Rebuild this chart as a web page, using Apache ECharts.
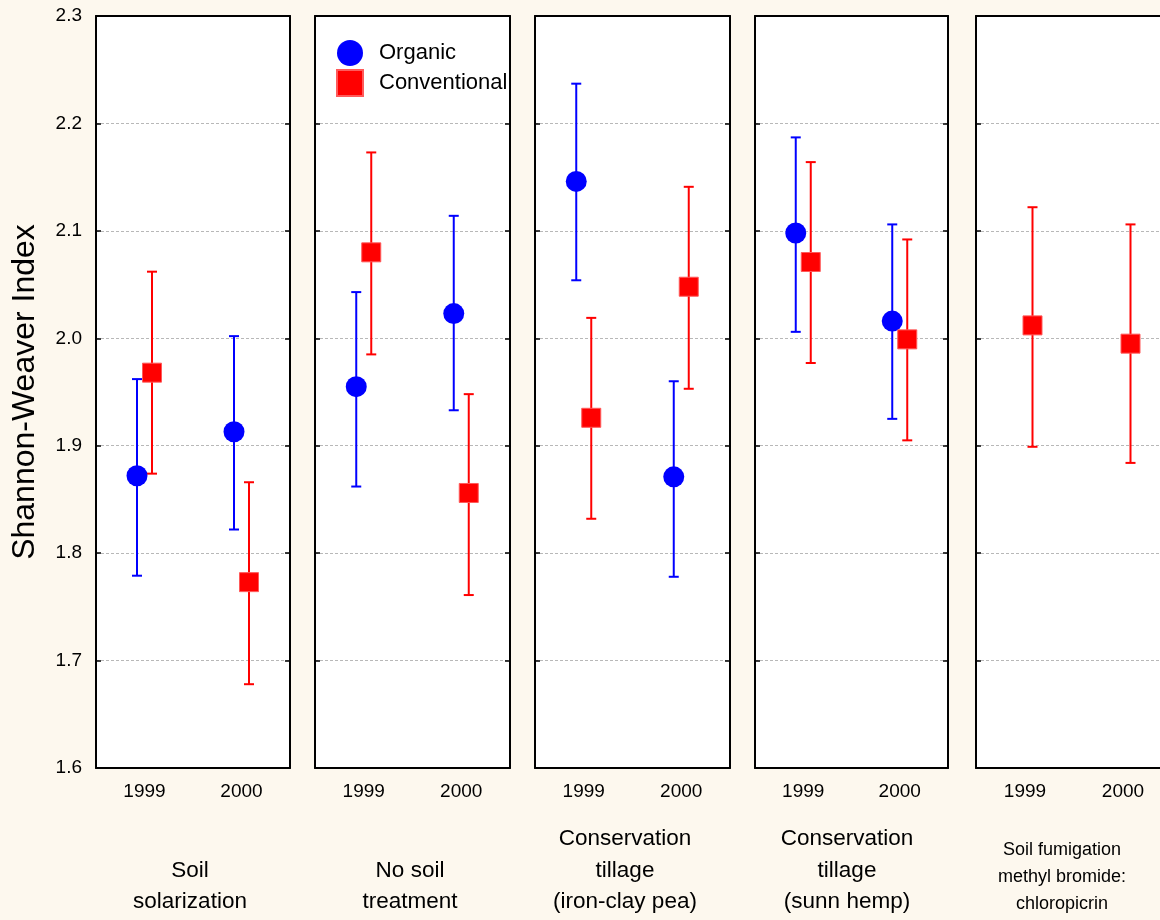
<!DOCTYPE html>
<html>
<head>
<meta charset="utf-8">
<title>Shannon-Weaver Index</title>
<script src="https://cdn.jsdelivr.net/npm/echarts@6/dist/echarts.min.js"></script>
<style>
  html, body { margin: 0; padding: 0; background: #fdf8ee; }
  #chart { width: 1160px; height: 920px; }
</style>
</head>
<body>
<div id="chart"></div>
<script>
// data
const years = ['1999', '2000']
const treatments = [
  'Soil\nsolarization',
  'No soil\ntreatment',
  'Conservation\ntillage\n(iron-clay pea)',
  'Conservation\ntillage\n(sunn hemp)',
  'Soil fumigation\nmethyl bromide:\nchloropicrin'
]
const organicMean = [[1.872, 1.913], [1.955, 2.023], [2.146, 1.871], [2.098, 2.016], [null, null]]
const organicLow = [[1.779, 1.822], [1.862, 1.933], [2.054, 1.778], [2.006, 1.925], [null, null]]
const organicHigh = [[1.962, 2.002], [2.043, 2.114], [2.237, 1.960], [2.187, 2.106], [null, null]]
const conventionalMean = [[1.968, 1.773], [2.080, 1.856], [1.926, 2.048], [2.071, 1.999], [2.012, 1.995]]
const conventionalLow = [[1.874, 1.678], [1.985, 1.761], [1.832, 1.953], [1.977, 1.905], [1.899, 1.884]]
const conventionalHigh = [[2.062, 1.866], [2.173, 1.948], [2.019, 2.141], [2.164, 2.092], [2.122, 2.106]]
const yMin = 1.6
const yMax = 2.3
const yStep = 0.1

// layout
const panelLeft = [96, 315, 535, 755, 976]
const panelWidth = [194, 195, 195, 193, 196]
const titleX = [190, 410, 625, 847, 1062]
const blue = '#0000ff'
const red = '#ff0000'
const offset = 7.5

const chart = echarts.init(document.getElementById('chart'))

let grids = []
let xAxes = []
let yAxes = []
let series = []
let graphics = []

function errorBar(dx, color) {
  return function (params, api) {
    let lo = api.coord([api.value(0), api.value(1)])
    let hi = api.coord([api.value(0), api.value(2)])
    let x = lo[0] + dx
    let st = { stroke: color, lineWidth: 2 }
    return {
      type: 'group',
      children: [
        { type: 'line', shape: { x1: x, y1: lo[1], x2: x, y2: hi[1] }, style: st },
        { type: 'line', shape: { x1: x - 5, y1: lo[1], x2: x + 5, y2: lo[1] }, style: st },
        { type: 'line', shape: { x1: x - 5, y1: hi[1], x2: x + 5, y2: hi[1] }, style: st }
      ]
    }
  }
}

treatments.forEach((name, i) => {
  grids.push({
    left: panelLeft[i], width: panelWidth[i], top: 16, height: 752,
    outerBoundsMode: 'none', containLabel: false,
    show: true, backgroundColor: '#ffffff', borderWidth: 0
  })
  let lineStyle = { color: '#000', width: 2 }
  // bottom x
  xAxes.push({
    gridIndex: i, type: 'category', data: years, position: 'bottom',
    axisLine: { onZero: false, lineStyle: lineStyle },
    axisTick: { inside: true, alignWithLabel: true, length: 5, lineStyle: { color: '#000', width: 1.5 } },
    axisLabel: { color: '#000', fontSize: 19, fontFamily: 'Liberation Sans', margin: 14 }
  })
  // top x
  xAxes.push({
    gridIndex: i, type: 'category', data: years, position: 'top',
    axisLine: { onZero: false, lineStyle: lineStyle },
    axisTick: { inside: true, alignWithLabel: true, length: 5, lineStyle: { color: '#000', width: 1.5 } },
    axisLabel: { show: false }
  })
  // left y
  yAxes.push({
    gridIndex: i, type: 'value', min: yMin, max: yMax, interval: yStep, position: 'left',
    name: i === 0 ? 'Shannon-Weaver Index' : '',
    nameLocation: 'middle', nameGap: 55, nameRotate: 90,
    nameTextStyle: { color: '#000', fontSize: 32, fontFamily: 'Liberation Sans' },
    axisLine: { show: true, lineStyle: lineStyle },
    axisTick: { show: true, inside: true, length: 5, lineStyle: { color: '#000', width: 1.5 } },
    axisLabel: {
      show: i === 0, color: '#000', fontSize: 19, fontFamily: 'Liberation Sans', margin: 14,
      formatter: v => v.toFixed(1)
    },
    splitLine: { show: true, lineStyle: { color: '#b8b8b8', width: 1, type: [3, 2] } }
  })
  // right y
  yAxes.push({
    gridIndex: i, type: 'value', min: yMin, max: yMax, interval: yStep, position: 'right',
    axisLine: { show: true, lineStyle: lineStyle },
    axisTick: { show: true, inside: true, length: 5, lineStyle: { color: '#000', width: 1.5 } },
    axisLabel: { show: false },
    splitLine: { show: false }
  })

  let xi = i * 2
  let yi = i * 2
  if (organicMean[i][0] !== null) {
    series.push({
      name: 'organic-err', type: 'custom', xAxisIndex: xi, yAxisIndex: yi,
      renderItem: errorBar(-offset, blue), encode: { x: 0, y: [1, 2] },
      data: years.map((y, k) => [k, organicLow[i][k], organicHigh[i][k]]),
      z: 2
    })
  }
  series.push({
    name: 'conventional-err', type: 'custom', xAxisIndex: xi, yAxisIndex: yi,
    renderItem: errorBar(offset, red), encode: { x: 0, y: [1, 2] },
    data: years.map((y, k) => [k, conventionalLow[i][k], conventionalHigh[i][k]]),
    z: 2
  })
  if (organicMean[i][0] !== null) {
    series.push({
      name: 'Organic', type: 'scatter', xAxisIndex: xi, yAxisIndex: yi,
      symbol: 'circle', symbolSize: 21, symbolOffset: [-offset, 0],
      itemStyle: { color: blue, opacity: 1 },
      data: years.map((y, k) => [k, organicMean[i][k]]),
      z: 3
    })
  }
  series.push({
    name: 'Conventional', type: 'scatter', xAxisIndex: xi, yAxisIndex: yi,
    symbol: 'rect', symbolSize: 19, symbolOffset: [offset, 0],
    itemStyle: { color: red, opacity: 1, borderColor: '#ff5a5a', borderWidth: 1 },
    data: years.map((y, k) => [k, conventionalMean[i][k]]),
    z: 3
  })

  let small = i === 4
  graphics.push({
    type: 'text', x: titleX[i], y: small ? 918 : 918,
    style: {
      text: name, fill: '#000',
      fontSize: small ? 18 : 22.5, fontFamily: 'Liberation Sans',
      lineHeight: small ? 27 : 31.5,
      align: 'center', verticalAlign: 'bottom'
    }
  })
})

chart.setOption({
  backgroundColor: '#fdf8ee',
  animation: false,
  grid: grids,
  xAxis: xAxes,
  yAxis: yAxes,
  legend: {
    data: [{ name: 'Organic', icon: 'circle' }, { name: 'Conventional', icon: 'rect' }],
    orient: 'vertical', left: 336, top: 40, padding: 0,
    itemWidth: 26, itemHeight: 26, itemGap: 3,
    textStyle: { color: '#000', fontSize: 22, fontFamily: 'Liberation Sans', padding: [0, 0, 0, 11] }
  },
  series: series,
  graphic: graphics
})
</script>
</body>
</html>
